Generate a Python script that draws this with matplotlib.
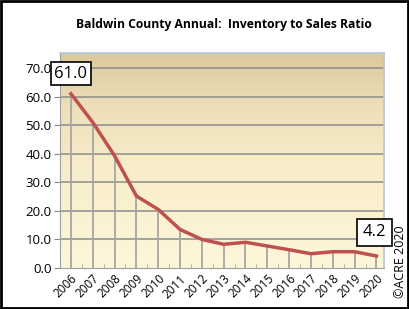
import matplotlib
matplotlib.use("Agg")
import matplotlib.pyplot as plt
import numpy as np
from matplotlib.colors import LinearSegmentedColormap
from matplotlib.patches import Rectangle

years = [2006, 2007, 2008, 2009, 2010, 2011, 2012, 2013, 2014, 2015, 2016, 2017, 2018, 2019, 2020]
ratio = [61.0, 51.0, 39.3, 25.2, 20.5, 13.5, 10.0, 8.3, 9.0, 7.7, 6.4, 5.0, 5.7, 5.7, 4.2]
yticks = [0, 10, 20, 30, 40, 50, 60, 70]
title = "Baldwin County Annual:  Inventory to Sales Ratio"

plt.rcParams['font.family'] = ['Open Sans', 'DejaVu Sans']

fig = plt.figure(figsize=(4.09, 3.09), dpi=100)
fig.patches.append(Rectangle((0.002, 0.003), 0.995, 0.994, transform=fig.transFigure,
                             fill=False, edgecolor='black', linewidth=2))
ax = fig.add_axes([0.1467, 0.1327, 0.939 - 0.1467, 0.828 - 0.1327])

cmap = LinearSegmentedColormap.from_list(
    'bg', [(0.0, '#fdf6da'), (0.45, '#f9eecb'), (0.75, '#ecdfb9'), (1.0, '#dcc99c')])
grad = np.linspace(0, 1, 256).reshape(-1, 1)
ax.imshow(grad, extent=[0, 1, 0, 1], transform=ax.transAxes, cmap=cmap,
          origin='lower', aspect='auto', zorder=0)

ax.set_xlim(2005.5, 2020.35)
ax.set_ylim(0, 75.2)
ax.set_yticks(yticks)
ax.set_yticklabels([f"{v:.1f}" for v in yticks], fontsize=9.5)
ax.set_xticks(years)
ax.set_xticklabels([str(y) for y in years], rotation=45, fontsize=8.5, ha='right',
                   rotation_mode='anchor')
ax.set_xticks([y + 0.5 for y in years[:-1]], minor=True)
ax.tick_params(axis='x', which='major', length=0, pad=3)
ax.tick_params(axis='x', which='minor', length=3, direction='in', color='#b0a890')
ax.tick_params(axis='y', length=4, color='#888888', pad=2)

for v in yticks[1:]:
    ax.axhline(v, color='#8c8c8c', linewidth=1.1, zorder=1)
ax.vlines(years, 0, ratio, color='#a6a6a6', linewidth=1.3, zorder=2)
ax.plot(years, ratio, color='#c0504d', linewidth=2.5, zorder=3)

for s in ['top', 'right']:
    ax.spines[s].set_color('#b8c8e0')
    ax.spines[s].set_linewidth(1.2)
ax.spines['left'].set_color('#a0a0a0')
ax.spines['bottom'].set_color('#a0a0a0')

box1 = dict(boxstyle='square,pad=0.2', facecolor='white', edgecolor='black', linewidth=1.2)
box2 = dict(boxstyle='square,pad=0.35', facecolor='white', edgecolor='black', linewidth=1.2)
ax.annotate(f"{ratio[0]:.1f}", (years[0], ratio[0]), xytext=(0, 14.5),
            textcoords='offset points', fontsize=12, bbox=box1, zorder=5,
            ha='center', va='center')
ax.annotate(f"{ratio[-1]:.1f}", (years[-1], ratio[-1]), xytext=(-1.2, 17),
            textcoords='offset points', fontsize=12, bbox=box2, zorder=5,
            ha='center', va='center')

fig.text(0.547, 0.922, title, ha='center', va='center', fontsize=8.7, fontweight='bold')
fig.text(0.979, 0.035, "©ACRE 2020", rotation=90, ha='center', va='bottom', fontsize=9)

fig.savefig('out.png', dpi=100)
